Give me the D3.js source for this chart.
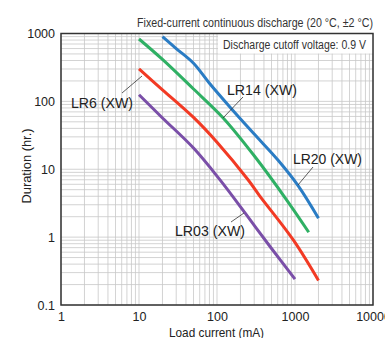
<!DOCTYPE html>
<html><head><meta charset="utf-8">
<script src="https://cdn.jsdelivr.net/npm/d3@7"></script>
<style>body{margin:0;background:#fff;}svg{display:block;}</style>
</head><body>
<script>
const seriesNames = ["LR20 (XW)", "LR14 (XW)", "LR6 (XW)", "LR03 (XW)"];
const seriesColors = ["#2a7cc4", "#2fb064", "#f23a24", "#7a4fa8"];
const lr20Current = [20, 30, 50, 80, 150, 300, 600, 1100, 2000];
const lr20Hours   = [900, 600, 365, 185, 80, 33, 13.8, 5.7, 1.9];
const lr14Current = [10, 20, 50, 120, 300, 800, 1500];
const lr14Hours   = [830, 415, 152, 57, 15.8, 3.4, 1.18];
const lr6Current  = [10, 20, 50, 100, 250, 350, 950, 2000];
const lr6Hours    = [300, 148, 58, 25, 7.0, 4.1, 0.91, 0.23];
const lr03Current = [10, 20, 50, 110, 230, 500, 1000];
const lr03Hours   = [125, 57, 20.5, 6.9, 2.25, 0.68, 0.24];
const xTickValues = [1, 10, 100, 1000, 10000];
const yTickValues = [0.1, 1, 10, 100, 1000];
const xTickLabels = ["1", "10", "100", "1000", "10000"];
const yTickLabels = ["0.1", "1", "10", "100", "1000"];

const W = 385, H = 338;
const L = 61, R = 373, T = 33.5, B = 305;
const font = "'Liberation Sans',Arial,sans-serif";
const svg = d3.select("body").append("svg").attr("width", W).attr("height", H)
  .style("font-family", font);

const x = d3.scaleLog().domain([1, 10000]).range([L, R]);
const y = d3.scaleLog().domain([0.1, 1000]).range([B, T]);

// grid
const g = svg.append("g");
g.selectAll("line.gx").data(x.ticks()).join("line")
  .attr("x1", d => x(d)).attr("x2", d => x(d)).attr("y1", T).attr("y2", B)
  .attr("stroke", "#c8c8c8").attr("stroke-width", 0.8);
g.selectAll("line.gy").data(y.ticks()).join("line")
  .attr("y1", d => y(d)).attr("y2", d => y(d)).attr("x1", L).attr("x2", R)
  .attr("stroke", "#c8c8c8").attr("stroke-width", 0.8);

// cutoff box
svg.append("rect").attr("x", 218).attr("y", T).attr("width", R - 218).attr("height", 20).attr("fill", "#fff");
svg.append("text").attr("x", 366).attr("y", 48.5).attr("text-anchor", "end")
  .attr("font-size", 12).attr("fill", "#333")
  .attr("textLength", 143).attr("lengthAdjust", "spacingAndGlyphs")
  .text("Discharge cutoff voltage: 0.9 V");

// lines
const seriesData = [
  [lr20Current, lr20Hours], [lr14Current, lr14Hours], [lr6Current, lr6Hours], [lr03Current, lr03Hours]
];
const line = d3.line().x(d => x(d[0])).y(d => y(d[1])).curve(d3.curveCatmullRom.alpha(0.5));
seriesData.forEach((s, i) => {
  const pts = s[0].map((c, j) => [c, s[1][j]]);
  svg.append("path").datum(pts).attr("d", line).attr("fill", "none")
    .attr("stroke", seriesColors[i]).attr("stroke-width", 3);
});

// frame
svg.append("rect").attr("x", L).attr("y", T).attr("width", R - L).attr("height", B - T)
  .attr("fill", "none").attr("stroke", "#333").attr("stroke-width", 1.5);

// axes tick labels
const xAxis = d3.axisBottom(x).tickValues(xTickValues).tickSize(0).tickPadding(0)
  .tickFormat((d, i) => xTickLabels[i]);
const xa = svg.append("g").attr("transform", `translate(0,${B + 7})`).call(xAxis);
xa.select(".domain").remove();
xa.selectAll("text").attr("font-size", 12.5).attr("fill", "#222").attr("font-family", font);

const yAxis = d3.axisLeft(y).tickValues(yTickValues).tickSize(0).tickPadding(0)
  .tickFormat((d, i) => yTickLabels[i]);
const ya = svg.append("g").attr("transform", `translate(${L - 6},0)`).call(yAxis);
ya.select(".domain").remove();
ya.selectAll("text").attr("font-size", 12.5).attr("fill", "#222").attr("font-family", font);

// titles
svg.append("text").attr("x", R).attr("y", 26.5).attr("text-anchor", "end")
  .attr("font-size", 12).attr("fill", "#333")
  .attr("textLength", 236).attr("lengthAdjust", "spacingAndGlyphs")
  .text("Fixed-current continuous discharge (20 °C, ±2 °C)");
svg.append("text").attr("x", 216.5).attr("y", 336.5).attr("text-anchor", "middle")
  .attr("font-size", 13).attr("fill", "#222")
  .attr("textLength", 95).attr("lengthAdjust", "spacingAndGlyphs")
  .text("Load current (mA)");
svg.append("text").attr("transform", "translate(31,166) rotate(-90)").attr("text-anchor", "middle")
  .attr("font-size", 13).attr("fill", "#222")
  .attr("textLength", 75).attr("lengthAdjust", "spacingAndGlyphs")
  .text("Duration (hr.)");

// series labels with leaders
const labels = [
  {i: 0, tx: 327.5, ty: 164, w: 69, lx1: 313, ly1: 167, lx2: 298, ly2: 185},
  {i: 1, tx: 262, ty: 95, w: 70, lx1: 243, ly1: 97, lx2: 223, ly2: 118},
  {i: 2, tx: 102, ty: 108, w: 62, lx1: 122, ly1: 93, lx2: 142, ly2: 76},
  {i: 3, tx: 210, ty: 236, w: 70, lx1: 231, ly1: 222, lx2: 244, ly2: 213}
];
labels.forEach(l => {
  svg.append("text").attr("x", l.tx).attr("y", l.ty).attr("text-anchor", "middle")
    .attr("font-size", 14.5).attr("fill", "#222")
    .attr("textLength", l.w).attr("lengthAdjust", "spacingAndGlyphs")
    .text(seriesNames[l.i]);
  svg.append("line").attr("x1", l.lx1).attr("y1", l.ly1).attr("x2", l.lx2).attr("y2", l.ly2)
    .attr("stroke", "#333").attr("stroke-width", 0.8);
});
</script>
</body></html>
